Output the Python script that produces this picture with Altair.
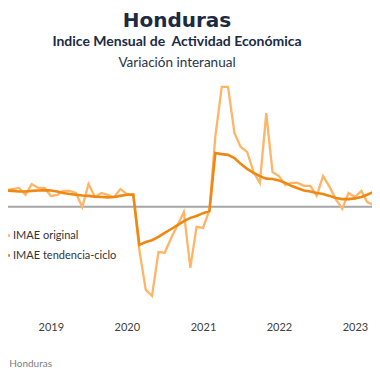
import altair as alt
import pandas as pd

# ---- data (variación interanual, %) ----
months = pd.date_range("2018-05-01", "2023-05-01", freq="MS").strftime("%Y-%m-%d").tolist()

imae_original = [
    4.9, 4.6, 4.9, 5.2, 3.3, 6.3, 5.2, 5.2,
    3.0, 3.3, 4.4, 4.4, 3.8, -0.1, 6.3, 2.7, 3.8, 3.3, 2.7, 4.9,
    3.5, 3.5, -12.0, -23.1, -24.8, -12.6, -12.8, -8.7, -5.1, -1.5, -17.0, -5.6,
    -5.9, -0.9, 19.4, 33.3, 33.3, 20.5, 16.6, 15.2, 9.6, 6.6, 26.0, 9.6,
    8.5, 6.0, 6.6, 6.6, 5.8, 5.8, 3.0, 8.5, 5.5, 2.1, -0.6, 3.8,
    2.7, 4.4, 1.3, 0.5, 4.4,
]

imae_tendencia = [
    4.6, 4.5, 4.4, 4.2, 4.2, 4.4, 4.5, 4.6,
    4.5, 4.2, 3.8, 3.5, 3.3, 3.1, 3.0, 2.8, 2.7, 2.6, 2.7, 3.0,
    3.3, 3.3, -10.6, -9.8, -9.3, -8.4, -7.3, -6.2, -5.1, -4.0, -3.1, -2.6,
    -1.8, -1.2, 14.9, 14.6, 14.4, 13.5, 11.9, 10.5, 9.4, 8.5, 7.8, 7.7,
    7.3, 6.6, 5.8, 5.1, 4.5, 4.2, 3.8, 3.5, 3.0, 2.4, 2.1, 2.1,
    2.3, 2.7, 3.3, 4.1, 4.9,
]

series_names = ["IMAE original", "IMAE tendencia-ciclo"]
series_colors = ["#FFB567", "#EE8812"]
year_ticks = ["2019-01-01", "2020-01-01", "2021-01-01", "2022-01-01", "2023-01-01"]

title_text = "Honduras"
subtitle_text = "Indice Mensual de\u00a0 Actividad Económica"
subtitle2_text = "Variación interanual"
source_text = "Fuente: Banco Central de Honduras"

# ---- build table ----
df = pd.concat([
    pd.DataFrame({"fecha": months, "valor": imae_original, "serie": series_names[0]}),
    pd.DataFrame({"fecha": months, "valor": imae_tendencia, "serie": series_names[1]}),
])

def ms(s):
    return int(pd.Timestamp(s, tz="UTC").value // 10**6)

x_domain = [ms("2018-06-09"), ms("2023-03-24")]
tick_vals = [ms(d) for d in year_ticks]
FONT = "Lato"
Y_DOMAIN = [-30.92, 55.19]

x_enc = alt.X(
    "fecha:T",
    scale=alt.Scale(type="utc", domain=x_domain),
    axis=alt.Axis(
        title=None, grid=False, domain=False, ticks=False, tickSize=0,
        values=tick_vals, labelExpr="utcFormat(datum.value, '%Y')",
        labelFont=FONT, labelFontSize=11, labelColor="#404040",
        labelPadding=3, labelOverlap=False, labelBound=False, labelFlush=False,
    ),
)
y_enc = alt.Y("valor:Q", scale=alt.Scale(domain=Y_DOMAIN, nice=False, zero=False), axis=None)

color_enc = alt.Color(
    "serie:N",
    scale=alt.Scale(domain=series_names, range=series_colors),
    legend=alt.Legend(
        orient="none", legendX=-13.5, legendY=219, title=None,
        symbolType="stroke", symbolSize=196, symbolStrokeWidth=2.5,
        labelFont=FONT, labelFontSize=11, labelColor="#333333",
        labelOffset=1.5, rowPadding=6, padding=0,
    ),
)

zero = alt.Chart(pd.DataFrame({"cero": [0]})).mark_rule(color="#A6A6A6", strokeWidth=2).encode(
    y=alt.Y("cero:Q", scale=alt.Scale(domain=Y_DOMAIN, nice=False, zero=False), axis=None)
)

lines_orig = alt.Chart(df[df.serie == series_names[0]]).mark_line(strokeWidth=2.3, clip=True).encode(
    x=x_enc, y=y_enc, color=color_enc
)
lines_trend = alt.Chart(df[df.serie == series_names[1]]).mark_line(strokeWidth=2.6, clip=True).encode(
    x=x_enc, y=y_enc, color=color_enc
)

def text_layer(txt, x, y, size, weight, color, font=FONT, align="center"):
    return alt.Chart(pd.DataFrame({"t": [txt]})).mark_text(
        font=font, fontSize=size, fontWeight=weight, color=color, align=align, baseline="alphabetic"
    ).encode(text="t:N", x=alt.value(x), y=alt.value(y))

t1 = text_layer(title_text, 169, 19, 20, "bold", "#1C2A44", font="DejaVu Sans")
t2 = text_layer(subtitle_text, 169, 38, 14, "bold", "#1C2A44")
t3 = text_layer(subtitle2_text, 169, 59, 13.5, "normal", "#2B3447")
t4 = text_layer(source_text, 44, 359, 10, "normal", "#808080", align="right")

chart = alt.layer(zero, lines_orig, lines_trend, t1, t2, t3, t4).properties(
    width=364, height=310,
    autosize=alt.AutoSizeParams(type="none"),
    padding={"left": 0, "top": 0, "right": 0, "bottom": 52},
).configure_view(stroke=None).resolve_scale(color="shared")

chart.save("out.html", embed_options={"renderer": "svg", "actions": False})
